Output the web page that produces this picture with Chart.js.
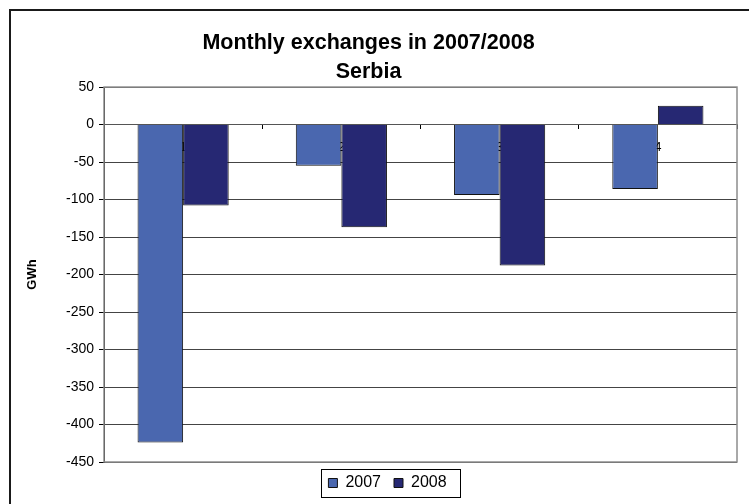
<!DOCTYPE html>
<html>
<head>
<meta charset="utf-8">
<script src="https://cdn.jsdelivr.net/npm/chart.js@4/dist/chart.umd.min.js"></script>
<style>
  html, body { margin: 0; padding: 0; background: #fff; overflow: hidden; }
  #wrap { width: 749px; height: 504px; }
</style>
</head>
<body>
<div id="wrap"><canvas id="exchChart"></canvas></div>
<script>
// ==================== DATA ====================
const months = ['1', '2', '3', '4'];
const values2007 = [-424, -55, -94, -86];
const values2008 = [-108, -137, -188, 25];
const seriesNames = ['2007', '2008'];
const titleLines = ['Monthly exchanges in 2007/2008', 'Serbia'];
const yMin = -450, yMax = 50, yStep = 50;

const FONT = "'Liberation Sans', Arial, sans-serif";

// Frame around the whole chart, plot area border, legend box
const framePlugin = {
    id: 'frame',
    afterLayout(chart) {
        // legend in the original sits a bit right of canvas centre
        const lg = chart.legend;
        if (lg) { lg.left += 19; lg.right += 19; }
    },
    beforeDatasetsDraw(chart) {
        const { ctx, chartArea: a } = chart;
        ctx.save();
        ctx.strokeStyle = '#8c8c8c';
        ctx.lineWidth = 1.5;
        ctx.strokeRect(a.left, a.top, a.right - a.left, a.bottom - a.top);
        ctx.restore();
    },
    afterDraw(chart) {
        const ctx = chart.ctx;
        ctx.save();
        // only the left and top edges of the outer frame are inside the picture
        ctx.strokeStyle = '#1a1a1a';
        ctx.lineWidth = 2;
        ctx.beginPath();
        ctx.moveTo(10, chart.height + 5);
        ctx.lineTo(10, 10);
        ctx.lineTo(chart.width + 5, 10);
        ctx.stroke();

        const boxes = chart.legend && chart.legend.legendHitBoxes;
        if (boxes && boxes.length) {
            let x0 = Infinity, x1 = -Infinity, y0 = Infinity, y1 = -Infinity;
            boxes.forEach(b => {
                x0 = Math.min(x0, b.left); x1 = Math.max(x1, b.left + b.width);
                y0 = Math.min(y0, b.top); y1 = Math.max(y1, b.top + b.height);
            });
            ctx.strokeStyle = '#000';
            ctx.lineWidth = 1;
            ctx.strokeRect(Math.round(x0 - 7) + 0.5, Math.round(y0 - 6) + 0.5,
                Math.round(x1 - x0 + 21), Math.round(y1 - y0 + 12));
        }
        ctx.restore();
    }
};

new Chart(document.getElementById('exchChart'), {
    type: 'bar',
    data: {
        labels: months,
        datasets: [{
            label: seriesNames[0],
            data: values2007,
            backgroundColor: '#4a67af',
            borderColor: '#111',
            borderWidth: 1,
            categoryPercentage: 0.576,
            barPercentage: 1
        }, {
            label: seriesNames[1],
            data: values2008,
            backgroundColor: '#262873',
            borderColor: '#111',
            borderWidth: 1,
            categoryPercentage: 0.576,
            barPercentage: 1
        }]
    },
    options: {
        responsive: true,
        maintainAspectRatio: false,
        animation: false,
        layout: { padding: { left: 0, right: 12, top: 0, bottom: 3 } },
        plugins: {
            title: {
                display: true,
                text: titleLines,
                color: '#000',
                font: { family: FONT, size: 21.5, weight: 'bold', lineHeight: 1.35 },
                padding: { top: 29, bottom: 0 }
            },
            legend: {
                position: 'bottom',
                labels: {
                    color: '#000',
                    font: { family: FONT, size: 16 },
                    boxWidth: 9,
                    boxHeight: 9,
                    padding: 13
                }
            },
            tooltip: { enabled: false }
        },
        scales: {
            x: {
                type: 'category',
                position: { y: 0 },
                offset: true,
                z: 1,
                afterFit: s => { s.height = 0; },
                grid: { offset: true, drawOnChartArea: false, tickLength: 4, tickColor: '#000' },
                border: { display: true, color: '#555' },
                ticks: { color: '#000', padding: 11, font: { family: FONT, size: 13 } }
            },
            y: {
                min: yMin,
                max: yMax,
                afterFit: s => { s.width = 104; },
                grid: { color: '#444', tickColor: '#000', tickLength: 5 },
                border: { color: '#000' },
                ticks: { stepSize: yStep, color: '#000', padding: 5, font: { family: FONT, size: 14 } },
                title: {
                    display: true,
                    text: 'GWh',
                    color: '#000',
                    font: { family: FONT, size: 13, weight: 'bold' },
                    padding: { top: 25, bottom: 0 }
                }
            }
        }
    },
    plugins: [framePlugin]
});
</script>
</body>
</html>
